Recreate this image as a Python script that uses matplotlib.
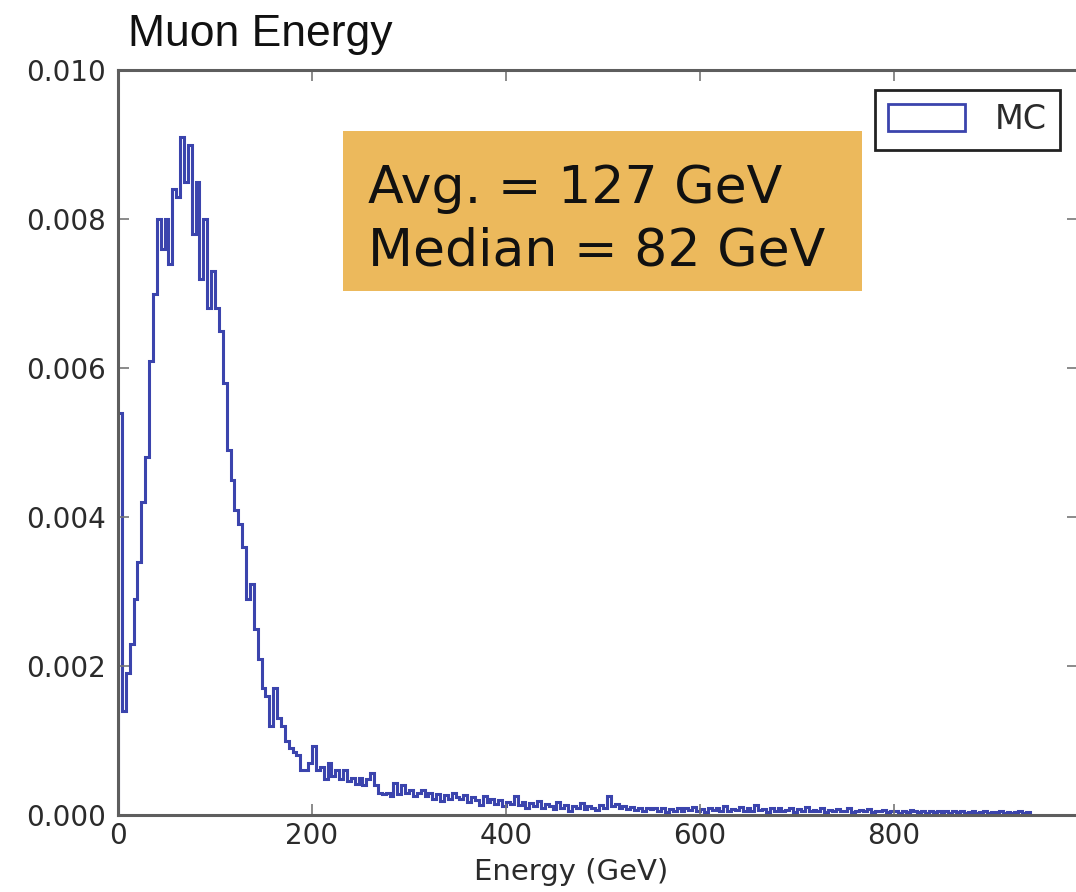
import numpy as np
import matplotlib
matplotlib.use("Agg")
import matplotlib.pyplot as plt
from matplotlib.patches import Patch, Rectangle

plt.rcParams["font.family"] = ["DejaVu Sans"]

# ---------------- data (density per 4 GeV bin) ----------------
bin_width_gev = 4.0
peak_density = [
    0.0054, 0.0014, 0.0019, 0.0023, 0.0029, 0.0034, 0.0042, 0.0048, 0.0061, 0.0070,
    0.0080, 0.0076, 0.0080, 0.0074, 0.0084, 0.0083, 0.0091, 0.0085, 0.0090, 0.0078,
    0.0085, 0.0072, 0.0080, 0.0068, 0.0073, 0.0068, 0.0065, 0.0058, 0.0049, 0.0045,
    0.0041, 0.0039, 0.0036, 0.0029, 0.0031, 0.0025, 0.0021, 0.0017, 0.0016, 0.0012,
    0.0017, 0.0013, 0.0012, 0.0010, 0.0009, 0.00085, 0.0008, 0.0006, 0.0006, 0.0007,
]
mid_density = [
    0.00093, 0.0006, 0.00065, 0.00048, 0.0007, 0.00052, 0.0006, 0.00048, 0.0006, 0.00045,
    0.0005, 0.00042, 0.0005, 0.0004, 0.00048, 0.00056, 0.0004, 0.0003, 0.00028, 0.0003,
    0.00026, 0.00043, 0.00028, 0.0004, 0.0003, 0.00033, 0.00025, 0.0003, 0.00034, 0.00026,
    0.0003, 0.00022, 0.00028, 0.00019, 0.00027, 0.00022, 0.0003, 0.00024, 0.00022, 0.00027,
    0.00018, 0.00024, 0.0002, 0.00014, 0.00025, 0.00018, 0.00022, 0.00015, 0.0002, 0.00012,
    0.00018, 0.00015, 0.00026, 0.00014, 0.00018, 0.0001, 0.00016, 0.00012, 0.00019, 0.0001,
    0.00015, 0.00012,
]
tail_density = [
    0.00008, 0.00018, 0.0001, 0.00014, 0.00006, 0.00012, 0.00009, 0.00016, 0.00008, 0.00012,
    0.0001, 0.00007, 0.00014, 0.00009, 0.00026, 0.00012, 0.00015, 0.0001, 0.00012, 0.00008,
    0.00011, 0.00007, 0.0001, 0.00006, 0.00009, 0.00008, 0.0001, 0.00005, 0.00009, 0.00004,
]
far_tail_density = [
    0.00008, 0.00006, 0.0001, 0.00005, 0.00009, 0.00007, 0.00011, 0.00006, 0.00008, 0.00004,
    0.00009, 0.00007, 0.0001, 0.00005, 0.00012, 0.00006, 0.00008, 0.00007, 0.00011, 0.00005,
    0.00009, 0.00006, 0.00013, 0.00007, 0.00008, 0.00004, 0.00009, 0.00006, 0.0001, 0.00005,
    0.00007, 0.00009, 0.00004, 0.00008, 0.00006, 0.00011, 0.00005, 0.00007, 0.00006, 0.00009,
    0.00004, 0.00007, 0.00005, 0.00008, 0.00006, 0.00005, 0.00009, 0.00004, 0.00006, 0.00007,
    0.00005, 0.00008, 0.00004, 0.00006, 0.00005, 0.00007, 0.00004, 0.00006, 0.00005, 0.00003,
    0.00006, 0.00004, 0.00007, 0.00005, 0.00004, 0.00006, 0.00003, 0.00005, 0.00004, 0.00006,
    0.00004, 0.00005, 0.00003, 0.00005, 0.00004, 0.00006, 0.00003, 0.00004, 0.00005, 0.00003,
    0.00004, 0.00005, 0.00003, 0.00004, 0.00004, 0.00005, 0.00003, 0.00004, 0.00003, 0.00004,
    0.00005, 0.00003, 0.00004,
]
x_ticks = [0, 200, 400, 600, 800]
y_ticks = [0.000, 0.002, 0.004, 0.006, 0.008, 0.010]
series_label = "MC"
title_text = "Muon Energy"
x_label = "Energy (GeV)"
stats_lines = ["Avg. = 127 GeV", "Median = 82 GeV"]

density = np.array(peak_density + mid_density + tail_density + far_tail_density)
edges = np.arange(len(density) + 1) * bin_width_gev

# ---------------- figure ----------------
W, H = 1076, 892
fig = plt.figure(figsize=(W / 100, H / 100), dpi=100)
ax = fig.add_axes([118 / W, 1 - 815 / H, (1078 - 118) / W, (815 - 70) / H])

line_color = "#3b44ad"
ax.stairs(density, edges, color=line_color, linewidth=2.2)

ax.set_xlim(0, (1078 - 118) / 0.97)
ax.set_ylim(0, 0.010)
ax.set_xticks(x_ticks)
ax.set_yticks(y_ticks)
ax.set_yticklabels([f"{v:.3f}" for v in y_ticks])

spine_color = "#5e5e5e"
for s in ax.spines.values():
    s.set_color(spine_color)
    s.set_linewidth(2.2)

ax.tick_params(axis="both", which="both", direction="in", length=8, width=1.2,
               color="#777777", top=True, right=True, labelcolor="#2b2b2b",
               labelsize=20)
ax.tick_params(axis="y", pad=9)
ax.tick_params(axis="x", pad=5)

ax.set_xlabel(x_label, fontsize=21, color="#2b2b2b")
ax.xaxis.set_label_coords((571 - 118) / (1078 - 118), (815 - 872) / (815 - 70))
ax.xaxis.label.set_va("center")

handle = Patch(facecolor="none", edgecolor=line_color, linewidth=2)
leg = ax.legend([handle], [series_label], loc="upper right",
                bbox_to_anchor=((1060 - 118) / (1078 - 118), (815 - 90) / (815 - 70)),
                borderaxespad=0, fontsize=24, fancybox=False, framealpha=1,
                borderpad=0.4, handlelength=2.3, handleheight=0.85,
                handletextpad=0.9)
leg.get_frame().set_edgecolor("#222222")
leg.get_frame().set_linewidth(2)
for t in leg.get_texts():
    t.set_color("#2b2b2b")

# stats box
fig.patches.append(Rectangle((343 / W, 1 - 291 / H), (862 - 343) / W, (291 - 131) / H,
                             transform=fig.transFigure, facecolor="#ecb95c",
                             edgecolor="none", zorder=5))
for i, line in enumerate(stats_lines):
    fig.text(368 / W, 1 - (203 + 63 * i) / H, line, fontsize=37.5, family="DejaVu Sans",
             color="#111111", va="baseline", ha="left", zorder=6)

# title
fig.text(128 / W, 1 - 46 / H, title_text, fontsize=32, family="Liberation Sans",
         color="#111111", va="baseline", ha="left")

fig.savefig("out.png", dpi=100)
